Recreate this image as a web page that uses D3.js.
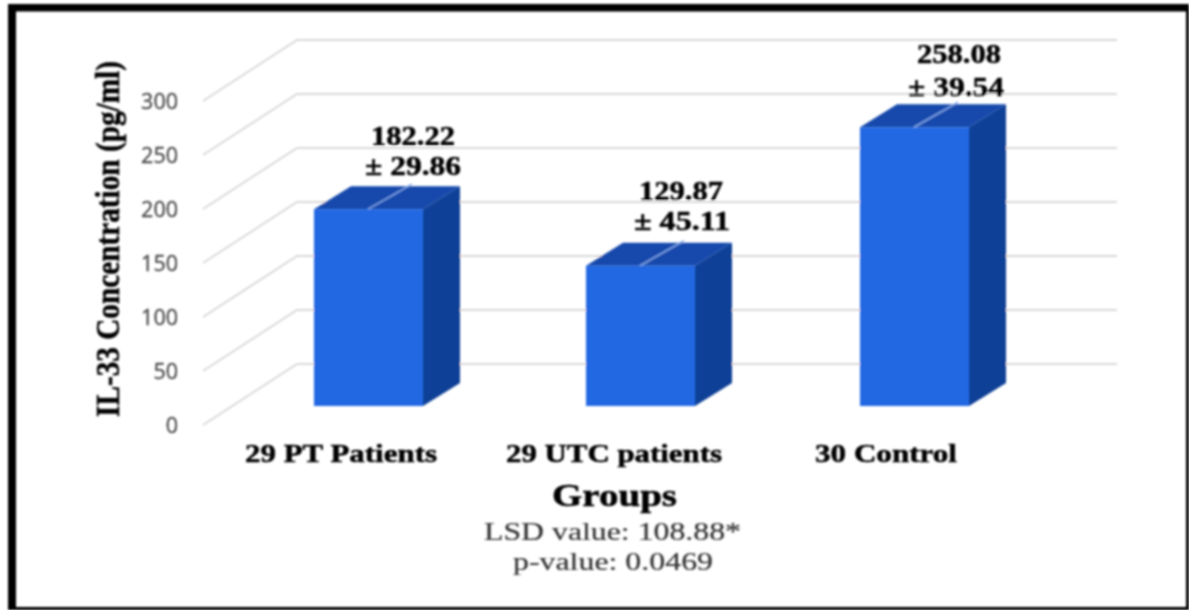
<!DOCTYPE html>
<html><head><meta charset="utf-8">
<script src="https://cdn.jsdelivr.net/npm/d3@7"></script>
<style>html,body{margin:0;padding:0;background:#fff}svg{display:block}</style>
</head><body><div id="c"></div>
<script>
const categories = ["29 PT Patients","29 UTC patients","30 Control"];
const values = [182.22,129.87,258.08];
const errors = ["± 29.86","± 45.11","± 39.54"];
const yTicks = [0,50,100,150,200,250,300];
const xTitle = "Groups";
const yTitle = "IL-33 Concentration (pg/ml)";
const notes = ["LSD value: 108.88*","p-value: 0.0469"];

const W=1189,H=610;
const svg=d3.select("#c").append("svg").attr("width",W).attr("height",H);
const defs=svg.append("defs");
defs.append("filter").attr("id","soft").attr("x","-5%").attr("y","-5%").attr("width","110%").attr("height","110%")
  .append("feGaussianBlur").attr("stdDeviation",0.8);
const g=svg.append("g").attr("filter","url(#soft)");

const y=d3.scaleLinear().domain([0,300]).range([406,82]);
const barX=d3.scaleOrdinal().domain(categories).range([314,586,860]);
const bw=109, dx=37, dy=23;
const wallLeft=297, wallRight=1117, frontLeft=203, wallShift=-42, frontShift=19;
const serif="Liberation Serif";

function label(sel,x,yy,txt,len,size,opts={}){
  return sel.append("text").attr("x",x).attr("y",yy)
   .attr("text-anchor",opts.anchor||"start")
   .attr("font-family",serif).attr("font-weight",opts.weight||"bold").attr("font-size",size)
   .attr("textLength",len).attr("lengthAdjust","spacingAndGlyphs")
   .attr("fill",opts.fill||"#000").attr("stroke",opts.fill||"#000").attr("stroke-width",opts.sw===undefined?0.5:opts.sw).text(txt);
}

// grid and tick labels
yTicks.forEach(t=>{
  const yb=y(t)+wallShift, yf=y(t)+frontShift;
  g.append("path").attr("d",`M${frontLeft},${yf}L${wallLeft},${yb}L${wallRight},${yb}`)
   .attr("fill","none").attr("stroke","#d9d9d9").attr("stroke-width",2);
  g.append("text").attr("x",178).attr("y",yf+8).attr("text-anchor","end")
   .attr("font-family","Open Sans").attr("font-size",21.5).attr("fill","#4a4a4a").attr("stroke","#4a4a4a").attr("stroke-width",0.3).text(t);
});

// bars and their labels
const valueOffset=[[0,-64],[-4,-66],[0,-64]];
const errorOffset=[[0,-34],[-3,-36],[-3,-31]];
categories.forEach((c,i)=>{
  const l=barX(c), r=l+bw, t=y(values[i]), b=y(0);
  g.append("path").attr("d",`M${r},${t}L${r+dx},${t-dy}L${r+dx},${b-dy}L${r},${b}Z`).attr("fill","#113f96");
  g.append("path").attr("d",`M${l},${t}L${l+dx},${t-dy}L${r+dx},${t-dy}L${r},${t}Z`).attr("fill","#1548ab");
  g.append("rect").attr("x",l).attr("y",t).attr("width",bw).attr("height",b-t).attr("fill","#2467e2");
  g.append("line").attr("x1",l+54).attr("y1",t).attr("x2",l+98).attr("y2",t-25).attr("stroke","#7ea6e8").attr("stroke-width",1.5);
  const cx=l+99;
  label(g,cx+valueOffset[i][0],t+valueOffset[i][1],values[i].toFixed(2),84,27,{anchor:"middle"});
  label(g,cx+errorOffset[i][0],t+errorOffset[i][1],errors[i],96,27,{anchor:"middle"});
});

// category labels
const catPos=[[245,192],[506,216],[815,142]];
categories.forEach((c,i)=>label(g,catPos[i][0],462,c,catPos[i][1],26));
label(g,552,506,xTitle,125,32);
label(g,484,540,notes[0],257,26,{weight:"normal",fill:"#333",sw:0.2});
label(g,513,570,notes[1],200,26,{weight:"normal",fill:"#333",sw:0.2});
g.append("text").attr("transform","translate(119,417) rotate(-90)")
 .attr("font-family",serif).attr("font-weight","bold").attr("font-size",34)
 .attr("textLength",356).attr("lengthAdjust","spacingAndGlyphs").attr("fill","#000").attr("stroke","#000").attr("stroke-width",0.5).text(yTitle);

// frame
svg.append("path").attr("fill","#000").attr("fill-rule","evenodd").attr("filter","url(#soft)")
 .attr("d",`M8,4H1189V610H8ZM16,11.5V607H1186V11.5Z`);
</script></body></html>
